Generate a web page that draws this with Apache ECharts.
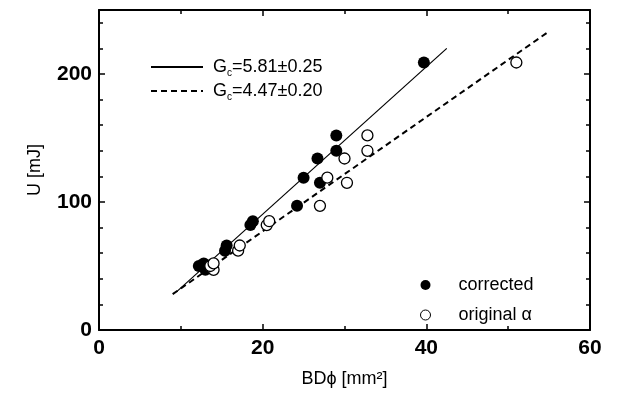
<!DOCTYPE html>
<html>
<head>
<meta charset="utf-8">
<script src="https://cdn.jsdelivr.net/npm/echarts@6/dist/echarts.min.js"></script>
<style>
  html, body { margin: 0; padding: 0; background: #fff; }
  #result { width: 617px; height: 407px; }
</style>
</head>
<body>
<div id="result"></div>
<script>
// 数据
var energy = [47, 50, 52, 62, 66, 82, 85, 97, 115, 119, 134, 140, 152, 209];
var bdCorrected = [13.0, 12.2, 12.8, 15.4, 15.6, 18.5, 18.8, 24.2, 27.0, 25.0, 26.7, 29.0, 29.0, 39.7];
var bdOriginal = [14.0, 13.6, 14.0, 17.0, 17.2, 20.5, 20.8, 27.0, 30.3, 27.9, 30.0, 32.8, 32.8, 51.0];
// 拟合直线两端点
var fitCorrectedX = [9.5, 42.5];
var fitCorrectedY = [30, 220];
var fitOriginalX = [9.0, 54.7];
var fitOriginalY = [28, 232];
var fitNames = ['Gc=5.81±0.25', 'Gc=4.47±0.20'];
var pointNames = ['corrected', 'original α'];

function pairs(xs, ys) {
    return xs.map(function (x, i) { return [x, ys[i]]; });
}

var fontFamily = 'Liberation Sans, Arial, sans-serif';

// 公共轴样式
function xAxisBase(pos, showLabel) {
    return {
        type: 'value', position: pos, min: 0, max: 60, interval: 20,
        axisLine: { show: true, onZero: false, lineStyle: { color: '#000', width: 2 } },
        axisTick: { show: true, inside: true, length: 6, lineStyle: { color: '#000', width: 1.5 } },
        minorTick: { show: true, splitNumber: 2, length: 4, lineStyle: { color: '#000', width: 1.5 } },
        axisLabel: {
            show: showLabel, margin: 8, color: '#000', fontSize: 21, fontWeight: 'bold', fontFamily: fontFamily
        },
        splitLine: { show: false }
    };
}
function yAxisBase(pos, showLabel) {
    return {
        type: 'value', position: pos, min: 0, max: 250, interval: 100,
        axisLine: { show: true, onZero: false, lineStyle: { color: '#000', width: 2 } },
        axisTick: { show: true, inside: true, length: 6, lineStyle: { color: '#000', width: 1.5 } },
        minorTick: { show: true, splitNumber: 5, length: 4, lineStyle: { color: '#000', width: 1.5 } },
        axisLabel: {
            show: showLabel, margin: 7, color: '#000', fontSize: 21, fontWeight: 'bold', fontFamily: fontFamily,
            formatter: function (v) { return v % 100 === 0 ? String(v) : ''; }
        },
        splitLine: { show: false }
    };
}

var xBottom = xAxisBase('bottom', true);
xBottom.name = 'BDϕ [mm²]';
xBottom.nameLocation = 'middle';
xBottom.nameGap = 40;
xBottom.nameTextStyle = { color: '#000', fontSize: 18, fontFamily: fontFamily };

var yLeft = yAxisBase('left', true);
yLeft.name = 'U [mJ]';
yLeft.nameLocation = 'middle';
yLeft.nameGap = 55;
yLeft.nameTextStyle = { color: '#000', fontSize: 18, fontFamily: fontFamily };

var gcRich = {
    a: { fontSize: 18, color: '#000', fontFamily: fontFamily, lineHeight: 22, verticalAlign: 'middle' },
    s: { fontSize: 10, color: '#000', fontFamily: fontFamily, lineHeight: 22, verticalAlign: 'bottom' }
};

var option = {
    animation: false,
    backgroundColor: '#fff',
    grid: { left: 99, right: 27, top: 10, bottom: 77 },
    xAxis: [xBottom, xAxisBase('top', false)],
    yAxis: [yLeft, yAxisBase('right', false)],
    // ---- 图例 ----
    legend: [
        {
            data: fitNames,
            orient: 'vertical',
            left: 145, top: 53,
            itemWidth: 52, itemHeight: 14, itemGap: 4,
            itemStyle: { opacity: 0 },
            formatter: function (name) {
                return '{a|G}{s|c}{a|' + name.slice(2) + '}';
            },
            textStyle: { padding: [0, 0, 0, 5], rich: gcRich },
            selectedMode: false
        },
        {
            data: [
                { name: pointNames[0], itemStyle: { color: '#000' } },
                { name: pointNames[1], itemStyle: { color: '#fff', borderColor: '#000', borderWidth: 1 } }
            ],
            orient: 'vertical',
            left: 415, top: 271,
            itemWidth: 10, itemHeight: 10, itemGap: 12,
            textStyle: { color: '#000', fontSize: 18, fontFamily: fontFamily, padding: [0, 0, 0, 23] },
            selectedMode: false
        }
    ],
    series: [
        {
            name: fitNames[0], type: 'line', symbol: 'none', z: 2,
            lineStyle: { color: '#000', width: 1.2, type: 'solid' },
            itemStyle: { color: '#000' },
            data: pairs(fitCorrectedX, fitCorrectedY)
        },
        {
            name: fitNames[1], type: 'line', symbol: 'none', z: 2,
            lineStyle: { color: '#000', width: 2, type: [6, 4] },
            itemStyle: { color: '#000' },
            data: pairs(fitOriginalX, fitOriginalY)
        },
        {
            name: pointNames[0], type: 'scatter', symbol: 'circle', symbolSize: 12, z: 3,
            itemStyle: { color: '#000', opacity: 1 },
            data: pairs(bdCorrected, energy)
        },
        {
            name: pointNames[1], type: 'scatter', symbol: 'circle', symbolSize: 11, z: 4,
            itemStyle: { color: '#fff', borderColor: '#000', borderWidth: 1.3, opacity: 1 },
            data: pairs(bdOriginal, energy)
        }
    ]
};

var myResult = echarts.init(document.getElementById('result'));
myResult.setOption(option);
</script>
</body>
</html>
